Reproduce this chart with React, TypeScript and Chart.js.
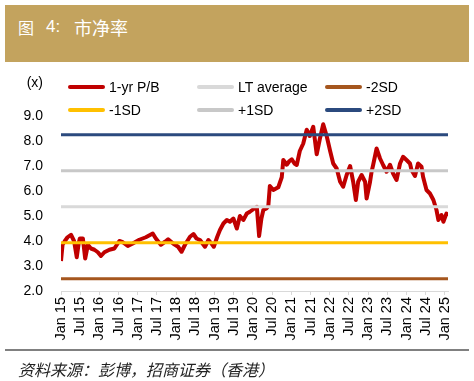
import React, { useEffect, useRef } from "react";
import { Chart, registerables } from "chart.js";

Chart.register(...registerables);

// ---- Data ----
const dates: number[] = [
  2015.0, 2015.04, 2015.1, 2015.17, 2015.26, 2015.34, 2015.41, 2015.46, 2015.49, 2015.57,
  2015.63, 2015.7, 2015.78, 2015.87, 2015.96, 2016.04, 2016.13, 2016.26, 2016.39, 2016.52,
  2016.61, 2016.74, 2016.87, 2017.04, 2017.21, 2017.39, 2017.47, 2017.6, 2017.71, 2017.79,
  2017.92, 2018.05, 2018.14, 2018.23, 2018.36, 2018.45, 2018.53, 2018.62, 2018.75, 2018.84,
  2018.92, 2018.98, 2019.07, 2019.14, 2019.23, 2019.32, 2019.4, 2019.49, 2019.58, 2019.66,
  2019.75, 2019.84, 2019.92, 2020.01, 2020.1, 2020.14, 2020.16, 2020.22, 2020.27, 2020.35,
  2020.4, 2020.44, 2020.53, 2020.66, 2020.75, 2020.79, 2020.88, 2020.95, 2021.01, 2021.08,
  2021.14, 2021.22, 2021.31, 2021.4, 2021.48, 2021.57, 2021.66, 2021.74, 2021.83, 2021.92,
  2022.01, 2022.09, 2022.18, 2022.27, 2022.35, 2022.44, 2022.53, 2022.61, 2022.68, 2022.74,
  2022.83, 2022.92, 2022.96, 2023.05, 2023.09, 2023.13, 2023.22, 2023.31, 2023.39, 2023.48,
  2023.57, 2023.65, 2023.74, 2023.83, 2023.91, 2024.0, 2024.09, 2024.13, 2024.22, 2024.3,
  2024.39, 2024.43, 2024.52, 2024.61, 2024.7, 2024.78, 2024.83, 2024.91, 2024.96, 2025.04,
  2025.08,
];

const pbValues: number[] = [
  3.2, 3.85, 4.0, 4.15, 4.25, 4.0, 3.35, 3.9, 4.1, 4.1,
  3.3, 3.85, 3.7, 3.65, 3.55, 3.4, 3.55, 3.65, 3.7, 4.0,
  3.95, 3.8, 3.9, 4.05, 4.15, 4.3, 4.1, 3.85, 3.97, 4.07,
  3.9, 3.77, 3.57, 3.85, 4.17, 4.28, 4.1, 4.04, 3.77, 4.04,
  3.9, 3.77, 4.17, 4.44, 4.7, 4.84, 4.77, 4.9, 4.5, 5.0,
  4.84, 5.1, 5.17, 5.27, 5.37, 4.6, 4.2, 4.9, 5.24, 5.3,
  5.4, 6.2, 6.04, 6.15, 6.55, 7.24, 7.05, 7.2, 7.27, 7.1,
  7.04, 7.6, 7.9, 8.45, 8.2, 8.57, 7.47, 8.07, 8.67, 8.2,
  7.6, 7.1, 6.9, 6.37, 6.17, 6.64, 7.0, 6.37, 5.64, 6.37,
  6.64, 6.37, 5.7, 6.37, 6.77, 7.04, 7.7, 7.3, 7.04, 6.77,
  7.05, 6.7, 6.44, 7.1, 7.37, 7.24, 7.1, 6.84, 6.6, 7.1,
  6.97, 6.57, 6.04, 5.9, 5.64, 5.24, 4.84, 5.04, 4.77, 5.1,
  5.0,
];

const bandNames: string[] = ["LT average", "-2SD", "-1SD", "+1SD", "+2SD"];
const bandValues: number[] = [5.37, 2.49, 3.93, 6.81, 8.25];
const bandColors: string[] = ["#D9D9D9", "#A5561E", "#FFC000", "#C8C8C8", "#2B4A7E"];

const xTickLabels: string[] = [
  "Jan 15", "Jul 15", "Jan 16", "Jul 16", "Jan 17", "Jul 17", "Jan 18", "Jul 18",
  "Jan 19", "Jul 19", "Jan 20", "Jul 20", "Jan 21", "Jul 21", "Jan 22", "Jul 22",
  "Jan 23", "Jul 23", "Jan 24", "Jul 24", "Jan 25",
];
const xTickValues: number[] = [
  2015, 2015.5, 2016, 2016.5, 2017, 2017.5, 2018, 2018.5, 2019, 2019.5, 2020,
  2020.5, 2021, 2021.5, 2022, 2022.5, 2023, 2023.5, 2024, 2024.5, 2025,
];
const yTicks: number[] = [2, 3, 4, 5, 6, 7, 8, 9];

const seriesName = "1-yr P/B";
const seriesColor = "#C00000";

const legendItems = [
  { name: seriesName, color: seriesColor },
  { name: bandNames[0], color: bandColors[0] },
  { name: bandNames[1], color: bandColors[1] },
  { name: bandNames[2], color: bandColors[2] },
  { name: bandNames[3], color: bandColors[3] },
  { name: bandNames[4], color: bandColors[4] },
];

const FONT = "'Liberation Sans', Arial, sans-serif";
const CJK = "'Noto Sans CJK SC', sans-serif";

export default function App() {
  const canvasRef = useRef<HTMLCanvasElement | null>(null);

  useEffect(() => {
    if (!canvasRef.current) return;
    const xMin = dates[0];
    const xMax = dates[dates.length - 1];
    const datasets: any[] = [
      {
        label: seriesName,
        data: dates.map((d, i) => ({ x: d, y: pbValues[i] })),
        borderColor: seriesColor,
        backgroundColor: seriesColor,
        borderWidth: 4,
        pointRadius: 0,
        tension: 0,
        borderJoinStyle: "round",
        order: 1,
      },
      ...bandNames.map((n, i) => ({
        label: n,
        data: [
          { x: xMin, y: bandValues[i] },
          { x: xMax, y: bandValues[i] },
        ],
        borderColor: bandColors[i],
        backgroundColor: bandColors[i],
        borderWidth: 3,
        pointRadius: 0,
        order: 0,
      })),
    ];

    const chart = new Chart(canvasRef.current, {
      type: "line",
      data: { datasets },
      options: {
        animation: false,
        responsive: false,
        devicePixelRatio: 1,
        layout: { padding: { top: 54, right: 26, left: 0, bottom: 0 } },
        plugins: { legend: { display: false }, tooltip: { enabled: false } },
        scales: {
          x: {
            type: "linear",
            min: xMin,
            max: xMax,
            afterBuildTicks: (scale: any) => {
              scale.ticks = xTickValues.map((v) => ({ value: v }));
            },
            afterFit: (scale: any) => {
              scale.height = 59;
            },
            grid: {
              display: true,
              drawOnChartArea: false,
              drawTicks: true,
              tickLength: 4,
              color: "#D9D9D9",
            },
            border: { display: true, color: "#D9D9D9", width: 1 },
            ticks: {
              autoSkip: false,
              minRotation: 90,
              maxRotation: 90,
              padding: 2,
              color: "#000",
              font: { family: FONT, size: 14.5 },
              callback: (_v: any, i: number) => xTickLabels[i],
            },
          },
          y: {
            type: "linear",
            min: yTicks[0],
            max: yTicks[yTicks.length - 1],
            afterBuildTicks: (scale: any) => {
              scale.ticks = yTicks.map((v) => ({ value: v }));
            },
            afterFit: (scale: any) => {
              scale.width = 61;
            },
            grid: { display: false, drawTicks: false },
            border: { display: false },
            ticks: {
              padding: 18,
              color: "#000",
              font: { family: FONT, size: 14 },
              callback: (v: any) => Number(v).toFixed(1),
            },
          },
        },
      },
    });
    return () => chart.destroy();
  }, []);

  const legendPos = [
    { left: 68, top: 87 },
    { left: 197, top: 87 },
    { left: 325, top: 87 },
    { left: 68, top: 110 },
    { left: 197, top: 110 },
    { left: 325, top: 110 },
  ];

  return (
    <div
      style={{
        position: "fixed",
        left: 0,
        top: 0,
        width: 474,
        height: 381,
        background: "#fff",
        overflow: "hidden",
        fontFamily: FONT,
      }}
    >
      <div
        style={{
          position: "absolute",
          left: 5,
          top: 5,
          width: 464,
          height: 57,
          background: "#C3A35E",
        }}
      />
      <span style={{ position: "absolute", left: 18, top: 16, color: "#fff", fontFamily: CJK, fontSize: 16, lineHeight: "22px" }}>图</span>
      <span style={{ position: "absolute", left: 46, top: 16, color: "#fff", fontFamily: FONT, fontSize: 17, lineHeight: "22px" }}>4:</span>
      <span style={{ position: "absolute", left: 74, top: 15, color: "#fff", fontFamily: CJK, fontSize: 18, lineHeight: "24px" }}>市净率</span>

      <canvas
        ref={canvasRef}
        width={474}
        height={288}
        style={{ position: "absolute", left: 0, top: 62, width: 474, height: 288 }}
      />

      <span style={{ position: "absolute", right: 474 - 43, top: 74, fontSize: 14, color: "#000", lineHeight: "16px" }}>(x)</span>

      {legendItems.map((it, i) => (
        <div key={it.name} style={{ position: "absolute", left: legendPos[i].left, top: legendPos[i].top - 9, height: 18 }}>
          <div
            style={{
              position: "absolute",
              left: 0,
              top: 7,
              width: 37,
              height: 4,
              borderRadius: 2,
              background: it.color,
            }}
          />
          <span
            style={{
              position: "absolute",
              left: 41,
              top: 0,
              fontSize: 14,
              lineHeight: "18px",
              whiteSpace: "nowrap",
              color: "#000",
            }}
          >
            {it.name}
          </span>
        </div>
      ))}

      <div style={{ position: "absolute", left: 5, top: 349, width: 464, height: 2, background: "#808080" }} />
      <div
        style={{
          position: "absolute",
          left: 18,
          top: 358,
          fontFamily: CJK,
          fontStyle: "italic",
          fontSize: 16,
          lineHeight: "22px",
          color: "#222",
          whiteSpace: "nowrap",
        }}
      >
        资料来源：彭博，招商证券（香港）
      </div>
    </div>
  );
}
